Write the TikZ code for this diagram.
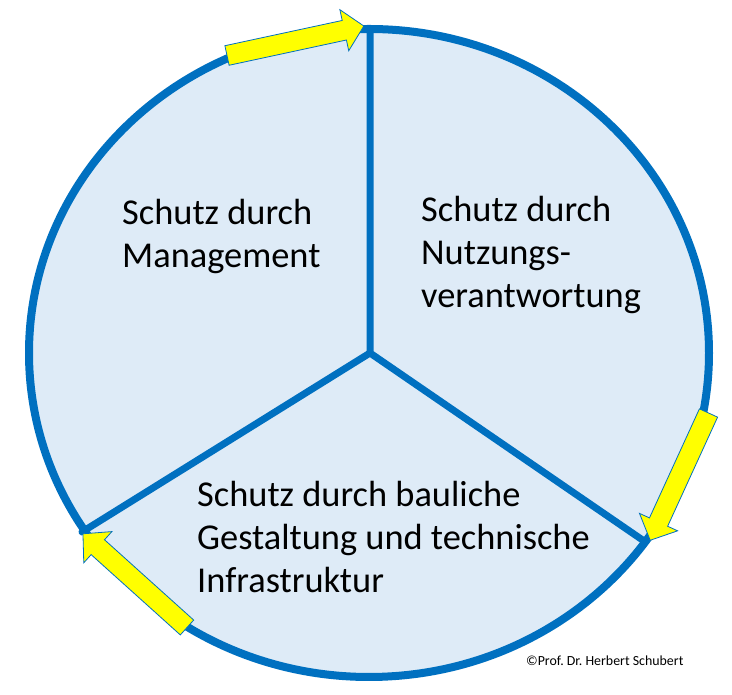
\documentclass[tikz,border=0pt]{standalone}
\usepackage{fontspec}
\setmainfont{Carlito}
\frenchspacing
\definecolor{ringblue}{HTML}{0070C0}
\definecolor{paleblue}{HTML}{DEEBF7}
\definecolor{arrowyellow}{HTML}{FFFF00}
\newcommand\yellowarrow[3]{%
  \begin{scope}[shift={#1}, rotate=#2]
    \draw[yarrowstyle] (0,-10) -- ({#3-20},-10) -- ({#3-20},-21) -- (#3,0)
      -- ({#3-20},21) -- ({#3-20},10) -- (0,10) -- cycle;
  \end{scope}}
\begin{document}
\begin{tikzpicture}[x=1pt,y=1pt,
  ring/.style={draw=ringblue, line width=8pt},
  spoke/.style={draw=ringblue, line width=7pt, line cap=round, line join=round},
  yarrowstyle/.style={fill=arrowyellow, draw=ringblue, line width=0.8pt, line join=miter},
  label/.style={inner sep=0pt, align=left, font=\fontsize{36.4}{43}\selectfont},
  credit/.style={inner sep=0pt, font=\fontsize{13.9}{16}\selectfont}]
\useasboundingbox (0,0) rectangle (732,695);
% circle fill
\fill[paleblue] (369,342) ellipse [x radius=340, y radius=324];
% spokes
\coordinate (c) at (370,342);
\coordinate (top) at (370,666);
\coordinate (lr) at (644,154);
\coordinate (ll) at (82,163);
\draw[spoke] (top) -- (c) -- (lr);
\draw[spoke] (c) -- (ll);
% ring
\draw[ring] (369,342) ellipse [x radius=340, y radius=324];
% yellow arrows
\yellowarrow{(227,639.5)}{12.15}{140}
\yellowarrow{(708.5,282)}{245.4}{140}
\yellowarrow{(187,67.5)}{138.0}{140}
% texts (anchor base = baseline of the last line)
\node[label, anchor=base west] (mgmt) at (122,427) {Schutz durch\\Management};
\node[label, anchor=base west] (nutz) at (421,387) {Schutz durch\\Nutzungs-\\verantwortung};
\node[label, anchor=base west] (bau) at (197,102) {Schutz durch bauliche\\Gestaltung und technische\\Infrastruktur};
\node[credit, anchor=base west] (copy) at (526,29) {©Prof. Dr. Herbert Schubert};
\end{tikzpicture}
\end{document}
